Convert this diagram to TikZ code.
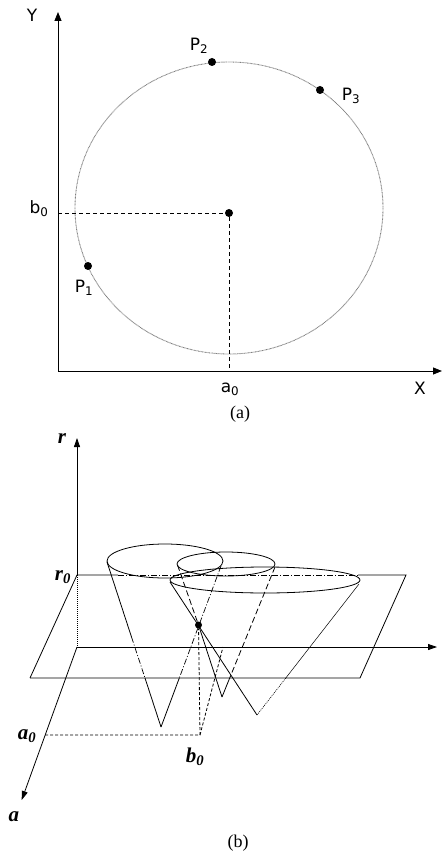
\documentclass[tikz,border=0pt]{standalone}
\usepackage{fontspec}
\setmainfont{Liberation Serif}
\newfontfamily\vsans{DejaVu Sans}
\usetikzlibrary{arrows.meta}
\tikzset{
  axisline/.style={line width=0.9pt,-{Triangle[length=9pt,width=7pt]}},
  axisthin/.style={line width=0.8pt,-{Triangle[length=9pt,width=6pt]}},
  circdot/.style={draw=gray,line width=0.9pt,dash pattern=on 0.8pt off 0.6pt},
  ptdot/.style={circle,fill=black,inner sep=0pt,minimum size=8pt},
  lbla/.style={font=\vsans\fontsize{17}{19}\selectfont,inner sep=1pt},
  lblb/.style={font=\bfseries\itshape\fontsize{21}{23}\selectfont,inner sep=1pt},
  capt/.style={font=\fontsize{18}{20}\selectfont,inner sep=1pt},
  dsh/.style={line width=0.9pt,dash pattern=on 4pt off 3pt},
  dshb/.style={line width=0.8pt,dash pattern=on 3pt off 2pt},
  longdash/.style={line width=0.8pt,dash pattern=on 6pt off 3pt},
  dashdot/.style={line width=0.7pt,dash pattern=on 6pt off 2pt on 1pt off 2pt},
  thinl/.style={line width=0.8pt},
  hair/.style={line width=0.5pt},
  hairdot/.style={line width=0.6pt,dash pattern=on 1pt off 1pt}
}
\begin{document}
\begin{tikzpicture}[x=1pt,y=-1pt]
\useasboundingbox (0,0) rectangle (443,858);
% ---------------- (a) ----------------
\coordinate (O1) at (58,371);
\coordinate (Ytip) at (58,12);
\coordinate (Xtip) at (442,371);
\draw[axisline] (O1) -- (Ytip);
\draw[axisline] (O1) -- (Xtip);
\node[lbla] (Ylab) at (32,15) {Y};
\node[lbla] (Xlab) at (420,388) {X};
\draw[circdot] (229,208) ellipse [x radius=154, y radius=146];
\node[ptdot] (C) at (229,213) {};
\coordinate (b0pt) at (58,213);
\coordinate (a0pt) at (229,371);
\draw[dsh] (b0pt) -- (C) -- (a0pt);
\node[lbla] (b0a) at (39,209) {b\textsubscript{0}};
\node[lbla] (a0a) at (230,389) {a\textsubscript{0}};
\node[ptdot] (P1) at (88,266) {};
\node[ptdot] (P2) at (212,62) {};
\node[ptdot] (P3) at (320,90) {};
\node[lbla] (P1l) at (84,288) {P\textsubscript{1}};
\node[lbla] (P2l) at (199,46) {P\textsubscript{2}};
\node[lbla] (P3l) at (351,96) {P\textsubscript{3}};
\node[capt] (capa) at (240,414) {(a)};
% ---------------- (b) ----------------
\coordinate (O2) at (77,647);
\coordinate (rtip) at (77,438);
\coordinate (R0) at (77,575);
\coordinate (PB) at (406,575);
\coordinate (PC) at (360,678);
\coordinate (PD) at (30,678);
\coordinate (btip) at (437,647);
\coordinate (atip) at (21.7,800);
\coordinate (T1) at (118,575);
\coordinate (T2) at (358,575);
% plane
\draw[thinl] (PD) -- (R0) -- (T1);
\draw[dashdot] (T1) -- (T2);
\draw[thinl] (T2) -- (PB) -- (PC) -- (PD);
% axes
\draw[axisthin] (R0) -- (rtip);
\draw[hairdot] (R0) -- (O2);
\draw[axisthin] (O2) -- (btip);
\draw[axisthin] (O2) -- (atip);
% ellipses
\draw[thinl] (165,561) ellipse [x radius=58, y radius=17];
\draw[thinl] (226,564) ellipse [x radius=49, y radius=12];
\draw[thinl] (265,580) ellipse [x radius=95, y radius=13];
% cone 1
\coordinate (A1) at (161,727);
\coordinate (L1) at (107,562);
\coordinate (L1a) at (131.5,637);
\coordinate (L1b) at (145,678);
\coordinate (R1) at (221,566);
\coordinate (R1a) at (179.3,678);
\draw[thinl] (L1) -- (L1a);
\draw[dashdot] (L1a) -- (L1b);
\draw[thinl] (L1b) -- (A1);
\draw[dashdot] (R1) -- (R1a);
\draw[thinl] (R1a) -- (A1);
% cone 2
\coordinate (A2) at (222,697);
\coordinate (L2) at (177.5,565);
\coordinate (D) at (198.5,625);
\coordinate (R2) at (275,567);
\coordinate (R2a) at (229.7,678);
\draw[longdash] (L2) -- (D);
\draw[thinl] (D) -- (A2);
\draw[longdash] (R2) -- (R2a);
\draw[thinl] (R2a) -- (A2);
% cone 3
\coordinate (A3) at (257,715);
\coordinate (L3) at (170,582);
\coordinate (R3) at (359,584);
\coordinate (R3a) at (285.8,678);
\draw[thinl] (L3) -- (A3);
\draw[hair] (R3) -- (R3a);
\draw[hairdot] (R3a) -- (A3);
% common point and projections
\node[ptdot,minimum size=7pt] (Dn) at (D) {};
\coordinate (Q) at (200,735);
\coordinate (a0b) at (45,735);
\coordinate (b0b) at (223,647);
\draw[dshb] (a0b) -- (Q) -- (Dn);
\draw[dshb] (Q) -- (b0b);
% labels
\node[lblb] (rl) at (62,439) {r};
\node[lblb] (r0l) at (63,577) {r\textsubscript{\textit{0}}};
\node[lblb] (al) at (14,817) {a};
\node[lblb] (a0l) at (27,736) {a\textsubscript{\textit{0}}};
\node[lblb] (b0l) at (195,757) {b\textsubscript{\textit{0}}};
\node[capt] (capb) at (238,843) {(b)};
\end{tikzpicture}
\end{document}
